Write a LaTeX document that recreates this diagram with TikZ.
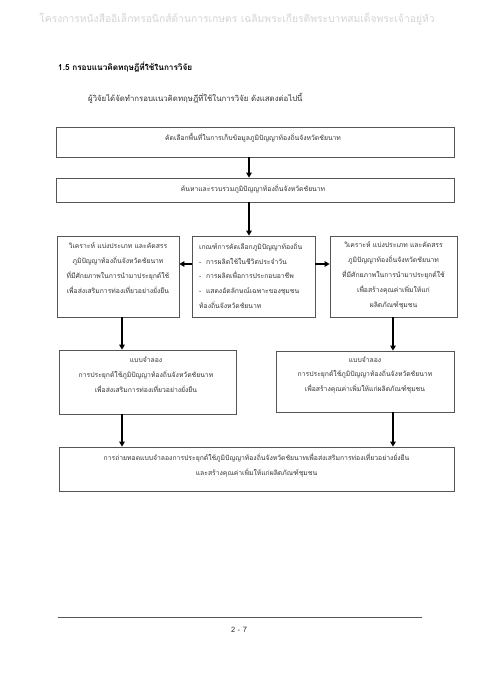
\documentclass[tikz,border=0pt]{standalone}
\usepackage{fontspec}
\setmainfont[Script=Thai]{Loma}
\newfontfamily\thaifont[Script=Thai]{Loma}
\usetikzlibrary{arrows.meta}
\definecolor{hdrgray}{HTML}{D4D4D4}
\definecolor{boxline}{HTML}{555555}
\definecolor{txtgray}{HTML}{333333}
\tikzset{
  boxnode/.style={draw=boxline, line width=0.8pt, inner sep=0pt, rectangle},
  boxtext/.style={text=txtgray, inner sep=0pt, align=center, font=\thaifont\fontsize{6.8}{14.8}\selectfont},
  lefttext/.style={boxtext, align=left},
  arr/.style={line width=1.7pt, -{Triangle[length=5pt,width=5.5pt]}},
}
\begin{document}
\begin{tikzpicture}[x=1pt,y=-1pt]
\useasboundingbox (0,0) rectangle (480,679);
\fill[white] (0,0) rectangle (480,679);
% header
\node[text=hdrgray, font=\thaifont\fontsize{10.3}{12}\selectfont, inner sep=0pt] (hdr) at (237,19) {โครงการหนังสืออิเล็กทรอนิกส์ด้านการเกษตร เฉลิมพระเกียรติพระบาทสมเด็จพระเจ้าอยู่หัว};
% title
\node[anchor=west, font=\thaifont\bfseries\fontsize{8.2}{10}\selectfont, inner sep=0pt] (ttl) at (58,67) {1.5 กรอบแนวคิดทฤษฎีที่ใช้ในการวิจัย};
\node[anchor=west, font=\thaifont\fontsize{7.8}{10}\selectfont, inner sep=0pt, text=txtgray] (sub) at (88,98) {ผู้วิจัยได้จัดทำกรอบแนวคิดทฤษฎีที่ใช้ในการวิจัย ดังแสดงต่อไปนี้};
% boxes
\node[boxnode, minimum width=398pt, minimum height=30pt] (b1) at (255,142) {};
\node[boxtext] (t1) at (253,138) {คัดเลือกพื้นที่ในการเก็บข้อมูลภูมิปัญญาท้องถิ่นจังหวัดชัยนาท};
\node[boxnode, minimum width=398pt, minimum height=24pt] (b2) at (255,190) {};
\node[boxtext] (t2) at (253,189) {ค้นหาและรวบรวมภูมิปัญญาท้องถิ่นจังหวัดชัยนาท};
\node[boxnode, minimum width=122pt, minimum height=81pt] (L) at (118,276.5) {};
\node[boxtext] (tL) at (118,268) {วิเคราะห์ แบ่งประเภท และคัดสรร\\ภูมิปัญญาท้องถิ่นจังหวัดชัยนาท\\ที่มีศักยภาพในการนำมาประยุกต์ใช้\\เพื่อส่งเสริมการท่องเที่ยวอย่างยั่งยืน};
\node[boxnode, minimum width=123pt, minimum height=81pt] (M) at (253.5,276.5) {};
\node[lefttext, anchor=west] (tM) at (199,275.5) {เกณฑ์การคัดเลือกภูมิปัญญาท้องถิ่น\\-\ \ การผลิตใช้ในชีวิตประจำวัน\\-\ \ การผลิตเพื่อการประกอบอาชีพ\\-\ \ แสดงอัตลักษณ์เฉพาะของชุมชน\\ท้องถิ่นจังหวัดชัยนาท};
\node[boxnode, minimum width=127pt, minimum height=81pt] (R) at (393.5,276.5) {};
\node[boxtext] (tR) at (393.5,275.5) {วิเคราะห์ แบ่งประเภท และคัดสรร\\ภูมิปัญญาท้องถิ่นจังหวัดชัยนาท\\ที่มีศักยภาพในการนำมาประยุกต์ใช้\\เพื่อสร้างคุณค่าเพิ่มให้แก่\\ผลิตภัณฑ์ชุมชน};
\node[boxnode, minimum width=177pt, minimum height=64pt] (LM) at (147.5,382) {};
\node[boxtext] (tLM) at (146,375) {แบบจำลอง\\การประยุกต์ใช้ภูมิปัญญาท้องถิ่นจังหวัดชัยนาท\\เพื่อส่งเสริมการท่องเที่ยวอย่างยั่งยืน};
\node[boxnode, minimum width=178pt, minimum height=61pt] (RM) at (365,381.5) {};
\node[boxtext] (tRM) at (365,375) {แบบจำลอง\\การประยุกต์ใช้ภูมิปัญญาท้องถิ่นจังหวัดชัยนาท\\เพื่อสร้างคุณค่าเพิ่มให้แก่ผลิตภัณฑ์ชุมชน};
\node[boxnode, minimum width=395pt, minimum height=44pt] (BT) at (256.5,469) {};
\node[boxtext] (tBT) at (256.5,465) {การถ่ายทอดแบบจำลองการประยุกต์ใช้ภูมิปัญญาท้องถิ่นจังหวัดชัยนาทเพื่อส่งเสริมการท่องเที่ยวอย่างยั่งยืน\\และสร้างคุณค่าเพิ่มให้แก่ผลิตภัณฑ์ชุมชน};
% helper coordinates
\coordinate (cx) at (249,0);
\coordinate (lx) at (122,0);
\coordinate (rx) at (393,0);
\coordinate (hy) at (0,264);
% arrows
\draw[arr] (b1.south -| cx) -- (b2.north -| cx);
\draw[arr] (b2.south -| cx) -- (M.north -| cx);
\draw[arr] (M.west |- hy) -- (L.east |- hy);
\draw[arr] (M.east |- hy) -- (R.west |- hy);
\draw[arr] (L.south -| lx) -- (LM.north -| lx);
\draw[arr] (R.south -| rx) -- (RM.north -| rx);
\draw[arr] (LM.south -| lx) -- (BT.north -| lx);
\draw[arr] (RM.south -| rx) -- (BT.north -| rx);
% footer
\coordinate (fl) at (58,617);
\coordinate (fr) at (422,617);
\draw[line width=0.8pt, color=boxline] (fl) -- (fr);
\node[font=\thaifont\fontsize{7.5}{9}\selectfont, text=txtgray, inner sep=0pt] (pg) at (239,630) {2 - 7};
\end{tikzpicture}
\end{document}
